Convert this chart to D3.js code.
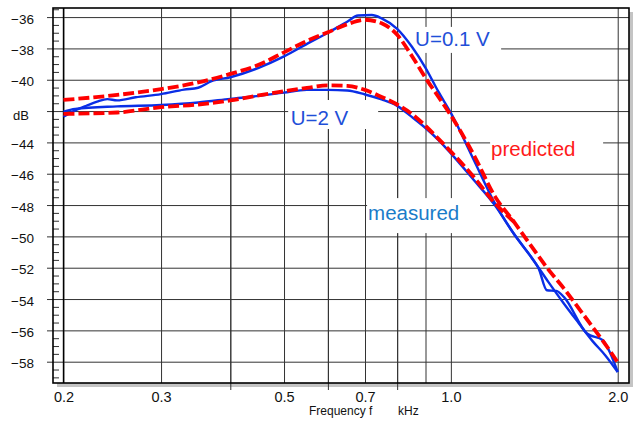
<!DOCTYPE html>
<html lang="en">
<head>
<meta charset="UTF-8">
<title>Frequency response</title>
<script src="https://d3js.org/d3.v7.min.js"></script>
<style>
  body { margin: 0; background: #fff; }
  svg { font-family: "Liberation Sans", Arial, sans-serif; }
  .grid line { stroke: #333; stroke-width: 1; }
  .grid path { display: none; }
  .lbl text { fill: #111; }
  .lbl path, .lbl line { display: none; }
</style>
</head>
<body>
<svg id="chart" width="641" height="424"></svg>
<script>
// tick values
const yTicks = [-36, -38, -40, -42, -44, -46, -48, -50, -52, -54, -56, -58];
const xGridTicks = [0.2, 0.3, 0.4, 0.5, 0.6, 0.7, 0.8, 0.9, 1.0, 2.0];
const xLabelTicks = [0.2, 0.3, 0.5, 0.7, 1.0, 2.0];
const xMinorTicks = [0.4, 0.6, 0.8];

// U = 0.1 V, measured
const freqA = [0.2, 0.21, 0.22, 0.23, 0.24, 0.25, 0.27, 0.3, 0.33, 0.35, 0.37, 0.4, 0.45, 0.5, 0.55, 0.6, 0.65, 0.68, 0.72, 0.75, 0.8, 0.85, 0.9, 0.95, 1.0, 1.1, 1.2, 1.3, 1.4, 1.44, 1.49, 1.55, 1.6, 1.76, 1.88, 1.94, 2.0];
const measA = [-42.36, -41.96, -41.66, -41.40, -41.24, -41.32, -41.12, -40.92, -40.63, -40.51, -40.09, -39.84, -39.24, -38.51, -37.71, -37.0, -36.3, -35.9, -35.87, -36.08, -36.75, -37.88, -39.24, -40.78, -42.12, -45.12, -47.87, -49.85, -51.38, -52.05, -53.44, -53.48, -53.88, -56.20, -56.63, -57.48, -58.66];

// U = 2 V, measured
const freqC = [0.2, 0.21, 0.25, 0.3, 0.35, 0.4, 0.45, 0.5, 0.55, 0.6, 0.65, 0.7, 0.75, 0.8, 0.85, 0.9, 0.95, 1.0, 1.1, 1.2, 1.3, 1.4, 1.5, 1.6, 1.7, 1.8, 1.9, 2.0];
const measC = [-42.04, -41.86, -41.70, -41.61, -41.45, -41.22, -41.03, -40.82, -40.65, -40.65, -40.69, -40.94, -41.26, -41.67, -42.37, -43.08, -43.85, -44.70, -46.40, -48.0, -49.85, -51.38, -52.92, -54.30, -55.53, -56.67, -57.60, -58.66];

// U = 0.1 V, predicted
const freqB = [0.2, 0.25, 0.3, 0.35, 0.4, 0.45, 0.5, 0.55, 0.6, 0.65, 0.7, 0.75, 0.8, 0.85, 0.9, 0.95, 1.0, 1.1, 1.2, 1.3, 1.4, 1.5, 1.6, 1.7, 1.8, 1.9, 2.0];
const predB = [-41.29, -40.97, -40.60, -40.17, -39.63, -39.05, -38.25, -37.52, -36.97, -36.46, -36.17, -36.40, -37.13, -38.47, -39.88, -41.10, -42.28, -44.80, -47.43, -49.08, -50.67, -52.12, -53.33, -54.58, -55.76, -56.89, -58.04];

// U = 2 V, predicted (joins the 0.1 V prediction above 1.3 kHz)
const freqD = [0.2, 0.25, 0.3, 0.35, 0.4, 0.45, 0.5, 0.55, 0.6, 0.65, 0.7, 0.75, 0.8, 0.85, 0.9, 0.95, 1.0, 1.1, 1.2, 1.3];
const predD = [-42.18, -42.09, -41.75, -41.58, -41.32, -41.0, -40.74, -40.52, -40.36, -40.39, -40.65, -41.10, -41.58, -42.18, -42.95, -43.78, -44.59, -46.21, -47.87, -49.08];

const svg = d3.select("#chart");
const L = 53, R = 629, T = 8, B = 383;

const x = d3.scaleLog().domain([0.1915, 2.096]).range([L, R]);
const y = d3.scaleLinear().domain([-59.36, -35.42]).range([B, T]);

// shadow + plot background
svg.append("rect").attr("x", L + 4).attr("y", T + 4)
  .attr("width", R - L).attr("height", B - T).attr("fill", "#c4c4c4");
svg.append("rect").attr("x", L).attr("y", T)
  .attr("width", R - L).attr("height", B - T).attr("fill", "#fff");

// horizontal grid, sticking out to the left as major ticks
svg.append("g").attr("class", "grid")
  .attr("transform", `translate(${R},0)`)
  .call(d3.axisLeft(y).tickValues(yTicks).tickSize(R - 47).tickFormat(""));

// vertical grid
svg.append("g").attr("class", "grid")
  .attr("transform", `translate(0,${T})`)
  .call(d3.axisBottom(x).tickValues(xGridTicks).tickSize(B - T).tickFormat(""));
svg.append("g").attr("class", "grid")
  .attr("transform", `translate(0,${T})`)
  .call(d3.axisBottom(x).tickValues(xMinorTicks).tickSize(B - T + 7).tickFormat(""));

// minor y ticks every 0.5 dB
const minorY = d3.range(-59, -35.4, 0.5).filter(v => Math.abs(v % 2) > 0.01);
svg.append("g").attr("class", "grid")
  .attr("transform", `translate(${L},0)`)
  .call(d3.axisRight(y).tickValues(minorY).tickSize(6).tickFormat(""));

// the 0.2 line drawn dark
svg.append("line").attr("x1", x(0.2)).attr("x2", x(0.2))
  .attr("y1", T).attr("y2", B).attr("stroke", "#000").attr("stroke-width", 1.3);

// label boxes (white, hide the grid)
const labels = [
  { text: "U=0.1 V", f: 0.862, v: -37.84, color: "#1f4fd8", box: [-6, -19, 92, 26] },
  { text: "U=2 V", f: 0.514, v: -42.89, color: "#1f4fd8", box: [-2.5, -25, 90, 29] },
  { text: "measured", f: 0.709, v: -48.96, color: "#1a7cc9", box: [-1, -22, 113, 35] },
  { text: "predicted", f: 1.182, v: -44.87, color: "#ff1a1a", box: [-1, -23, 113, 32] }
];
labels.forEach(d => {
  svg.append("rect")
    .attr("x", x(d.f) + d.box[0]).attr("y", y(d.v) + d.box[1])
    .attr("width", d.box[2]).attr("height", d.box[3]).attr("fill", "#fff");
});

// curves
const line = d3.line().x(d => x(d[0])).y(d => y(d[1])).curve(d3.curveMonotoneX);
const blue = "#0a2ee6", red = "#ff0000";

[[freqA, measA], [freqC, measC]].forEach(([f, v]) => {
  svg.append("path").datum(d3.zip(f, v))
    .attr("d", line).attr("fill", "none")
    .attr("stroke", blue).attr("stroke-width", 2.4).attr("stroke-linejoin", "round");
});
[[freqB, predB], [freqD, predD]].forEach(([f, v]) => {
  svg.append("path").datum(d3.zip(f, v))
    .attr("d", line).attr("fill", "none")
    .attr("stroke", red).attr("stroke-width", 3.8).attr("stroke-dasharray", "11,4");
});

labels.forEach(d => {
  svg.append("text").attr("x", x(d.f)).attr("y", y(d.v))
    .attr("fill", d.color).attr("font-size", 20.5).text(d.text);
});

// frame
svg.append("rect").attr("x", L).attr("y", T)
  .attr("width", R - L).attr("height", B - T)
  .attr("fill", "none").attr("stroke", "#000").attr("stroke-width", 1.6);

// y labels
svg.append("g").attr("class", "lbl")
  .attr("transform", "translate(47,0)")
  .call(d3.axisLeft(y).tickValues(yTicks.filter(v => v !== -42)).tickSize(0).tickPadding(13))
  .selectAll("text").attr("font-size", 13.5).attr("font-family", null).attr("dy", "0.45em");
svg.append("text").attr("x", 21).attr("y", y(-42) + 9)
  .attr("text-anchor", "middle").attr("font-size", 13).attr("fill", "#111").text("dB");

// x labels
svg.append("g").attr("class", "lbl")
  .attr("transform", `translate(0,${B})`)
  .call(d3.axisBottom(x).tickValues(xLabelTicks).tickSize(0).tickPadding(9).tickFormat(d3.format(".1f")))
  .selectAll("text").attr("font-size", 14.5).attr("font-family", null);

// axis title
const title = svg.append("text").attr("y", 415).attr("font-size", 12).attr("fill", "#111");
title.append("tspan").attr("x", 309).text("Frequency f");
title.append("tspan").attr("x", 398).text("kHz");
</script>
</body>
</html>
